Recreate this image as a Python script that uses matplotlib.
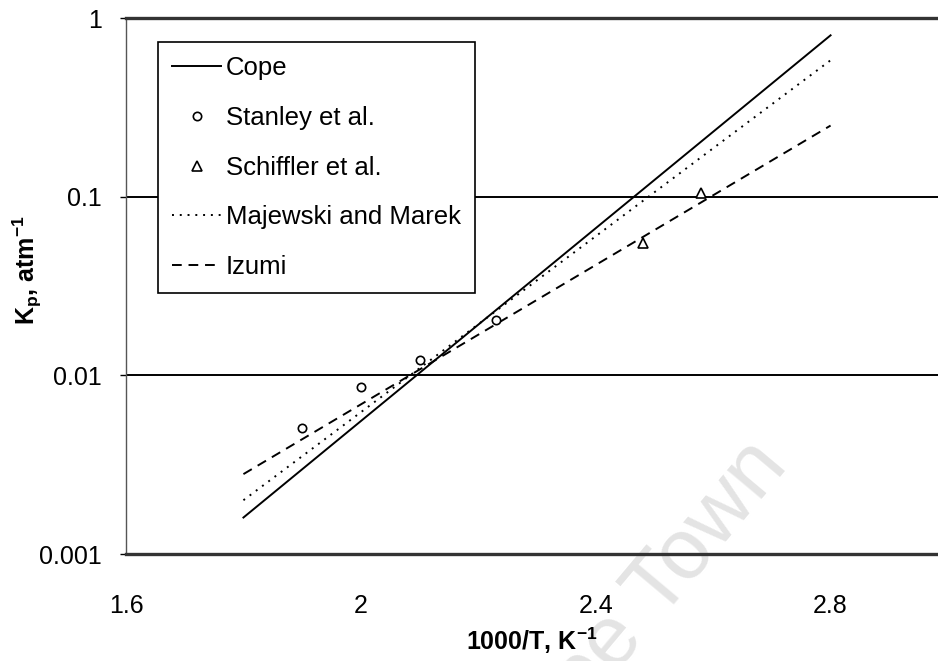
import numpy as np
import matplotlib
matplotlib.use('Agg')
import matplotlib.pyplot as plt

plt.rcParams['font.family'] = ['Liberation Sans', 'DejaVu Sans']

# correlation lines, evaluated at the ends of the fitted range
x_fit = [1.8, 2.8]
cope_k = [0.0016, 0.80]
majewski_k = [0.0020, 0.58]
izumi_k = [0.0028, 0.25]

# experimental points
stanley_x = [1.9, 2.0, 2.1, 2.23]
stanley_k = [0.0051, 0.0086, 0.0122, 0.0204]
schiffler_x = [2.48, 2.58]
schiffler_k = [0.055, 0.105]

xticks = [1.6, 2.0, 2.4, 2.8]
xtick_labels = ['1.6', '2', '2.4', '2.8']
yticks = [0.001, 0.01, 0.1, 1]
ytick_labels = ['0.001', '0.01', '0.1', '1']

W, H = 938, 661
fig = plt.figure(figsize=(W/100, H/100), dpi=100)
ax = fig.add_axes([126/W, (H-554)/H, (948-126)/W, (554-18)/H])

# faint background stamp
fig.text(513/W, 1-795/H, 'Cape Town', fontsize=62, color='#e4e4e4',
         rotation=50, rotation_mode='anchor', ha='left', va='baseline',
         zorder=-1)
ax.patch.set_alpha(0)

ax.set_yscale('log')
ax.set_xlim(1.6, 3.0)
ax.set_ylim(0.001, 1)

for y in [0.01, 0.1]:
    ax.axhline(y, color='black', lw=1.4, zorder=1)

ax.plot(x_fit, cope_k, color='black', lw=1.4, ls='-', label='Cope', zorder=3)
ax.plot(stanley_x, stanley_k, ls='none', marker='o', ms=6, mfc='white',
        mec='black', mew=1.2, label='Stanley et al.', zorder=4)
ax.plot(schiffler_x, schiffler_k, ls='none', marker='^', ms=6.5, mfc='white',
        mec='black', mew=1.2, label='Schiffler et al.', zorder=4)
ax.plot(x_fit, majewski_k, color='black', lw=1.4, ls=(0, (1, 3)),
        label='Majewski and Marek', zorder=3)
ax.plot(x_fit, izumi_k, color='black', lw=1.4, ls=(0, (5, 3.5)),
        label='Izumi', zorder=3)

for s in ['top', 'bottom']:
    ax.spines[s].set_color('#333333')
    ax.spines[s].set_linewidth(2.4)
ax.spines['right'].set_visible(False)
ax.spines['left'].set_color('#555555')
ax.spines['left'].set_linewidth(1.0)

ax.set_xticks(xticks)
ax.set_xticklabels(xtick_labels)
ax.set_yticks(yticks)
ax.set_yticklabels(ytick_labels)
ax.yaxis.set_minor_locator(matplotlib.ticker.NullLocator())
ax.tick_params(axis='x', length=0, pad=29, labelsize=18)
ax.tick_params(axis='y', length=4.5, width=1, direction='out', pad=13, labelsize=18)

ax.set_xlabel('1000/T, K$^{\\mathregular{-1}}$', fontsize=18, fontweight='bold')
ax.xaxis.set_label_coords((532-126)/(948-126), -(626-554)/(554-18))
ax.set_ylabel('K$_{\\mathregular{p}}$, atm$^{\\mathregular{-1}}$', fontsize=18,
              fontweight='bold')
ax.yaxis.set_label_coords(-(126-44)/(948-126), (554-270)/(554-18))

leg = ax.legend(loc='upper left', bbox_to_anchor=(158/W, 1-42/H),
                bbox_transform=fig.transFigure, borderaxespad=0,
                frameon=True, fancybox=False, fontsize=18.5, handlelength=1.9,
                handletextpad=0.2, labelspacing=1.0, borderpad=0.55)
leg.get_frame().set_edgecolor('black')
leg.get_frame().set_linewidth(1.2)
leg.get_frame().set_alpha(1)

fig.savefig('out.png', dpi=100)
